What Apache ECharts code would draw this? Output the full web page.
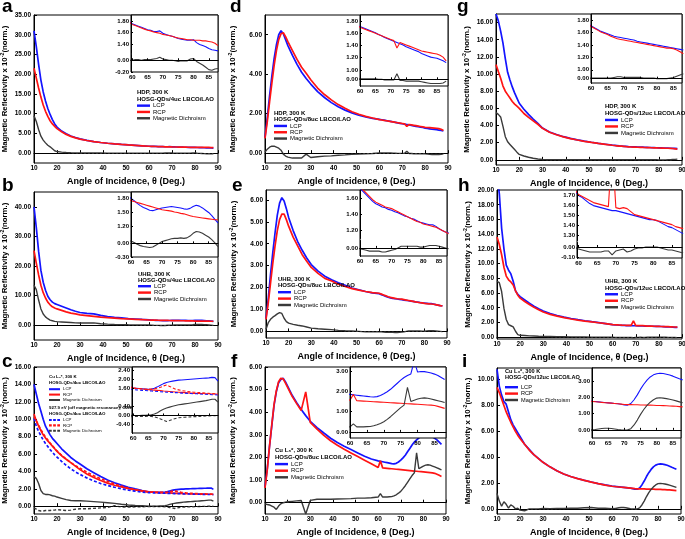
<!DOCTYPE html>
<html><head><meta charset="utf-8">
<script src="https://cdn.jsdelivr.net/npm/echarts@6/dist/echarts.min.js"></script>
<style>html,body{margin:0;padding:0;background:#fff}#c{width:685px;height:539px}</style>
</head><body><div id="c"></div>
<script>
// ---------------- DATA ----------------
const angles = [10,11,12,13,14,15,16,17,18,19,20,22,24,26,28,30,33,36,39,42,45,48,51,54,57,
  60,61,62,63,64,65,66,67,68,69,70,71,72,73,74,75,76,77,78,79,80,81,82,83,84,85,86,87,88];

const aLCP = [31.0,27.0,22.5,18.5,15.5,13.2,11.3,9.8,8.5,7.4,6.6,5.6,4.9,4.35,3.95,3.6,3.22,2.93,2.7,2.5,2.35,2.21,2.09,1.98,1.86,
  1.75,1.73,1.71,1.69,1.67,1.65,1.64,1.62,1.62,1.63,1.59,1.57,1.55,1.54,1.52,1.50,1.49,1.48,1.47,1.47,1.48,1.43,1.40,1.38,1.36,1.33,1.31,1.30,1.29];
const aRCP = [21.5,19.0,16.5,14.2,12.2,10.6,9.3,8.2,7.4,6.8,6.2,5.4,4.75,4.25,3.88,3.55,3.2,2.92,2.69,2.5,2.34,2.2,2.08,1.97,1.86,
  1.74,1.72,1.70,1.68,1.66,1.64,1.63,1.61,1.60,1.59,1.57,1.56,1.55,1.54,1.52,1.51,1.50,1.49,1.48,1.48,1.47,1.47,1.47,1.46,1.46,1.45,1.44,1.42,1.38];
const aMD = [9.5,8.0,6.0,4.3,3.3,2.6,2.0,1.6,1.1,0.6,0.4,0.25,0.15,0.1,0.07,0.05,0.03,0.02,0.02,0.01,0.01,0.0,0.0,0.0,0.0,
  0.0,0.01,0.01,0.0,0.01,0.01,0.01,0.02,0.03,0.05,0.02,0.01,0.0,0.0,-0.01,-0.02,-0.01,-0.01,-0.01,0.02,0.03,-0.02,-0.05,-0.08,-0.12,-0.16,-0.17,-0.15,-0.14];

const bLCP = [40,33,25,18.5,14.5,11.8,9.8,8.6,7.8,7.3,7.0,6.4,5.8,5.2,4.7,4.3,4.0,3.8,3.3,2.9,2.65,2.45,2.25,2.1,1.95,
  1.81,1.76,1.70,1.65,1.61,1.58,1.55,1.54,1.56,1.58,1.60,1.61,1.62,1.63,1.62,1.61,1.60,1.58,1.57,1.59,1.63,1.66,1.64,1.60,1.55,1.50,1.43,1.35,1.27];
const bRCP = [25.2,21,17,13.5,11,9.2,7.8,6.9,6.2,5.8,5.5,5.0,4.5,4.1,3.8,3.5,3.25,3.0,2.75,2.55,2.4,2.25,2.12,2.0,1.88,
  1.76,1.74,1.72,1.70,1.68,1.66,1.64,1.62,1.60,1.58,1.56,1.55,1.54,1.53,1.51,1.50,1.48,1.47,1.45,1.43,1.41,1.40,1.39,1.38,1.37,1.36,1.35,1.34,1.34];
const bMD = [13.5,12,8.5,5.5,3.8,2.8,2.2,1.7,1.5,1.3,1.2,1.1,1.0,0.9,0.8,0.75,0.75,0.8,0.5,0.35,0.25,0.2,0.13,0.1,0.07,
  0.05,0.02,-0.02,-0.05,-0.07,-0.08,-0.09,-0.08,-0.04,0.0,0.04,0.06,0.08,0.10,0.11,0.11,0.12,0.11,0.12,0.16,0.22,0.26,0.25,0.22,0.18,0.14,0.08,0.01,-0.07];

const cLCP = [14.0,12.9,11.8,10.9,10.0,9.2,8.7,8.2,7.8,7.5,7.2,6.6,6.1,5.6,5.2,4.85,4.3,3.85,3.4,3.0,2.7,2.42,2.18,1.98,1.8,
  1.63,1.62,1.61,1.60,1.59,1.58,1.59,1.62,1.68,1.75,1.82,1.87,1.90,1.93,1.95,1.97,1.98,1.99,2.00,2.01,2.02,2.03,2.04,2.05,2.06,2.07,2.09,2.08,1.93];
const cRCP = [10.6,9.8,9.2,8.7,8.2,7.85,7.5,7.2,6.9,6.6,6.3,5.8,5.4,5.0,4.6,4.2,3.7,3.3,2.95,2.65,2.4,2.2,2.02,1.88,1.76,
  1.64,1.62,1.61,1.59,1.58,1.56,1.55,1.54,1.53,1.52,1.50,1.49,1.48,1.47,1.46,1.45,1.44,1.43,1.42,1.41,1.40,1.40,1.39,1.39,1.38,1.38,1.37,1.37,1.36];
const cMD = [3.4,3.2,2.6,1.8,1.45,1.35,1.35,1.3,1.2,1.15,1.05,0.9,0.75,0.65,0.62,0.62,0.58,0.52,0.46,0.4,0.32,0.22,0.14,0.08,0.04,
  0.0,0.0,0.0,0.01,0.01,0.02,0.03,0.06,0.12,0.2,0.27,0.32,0.36,0.40,0.43,0.46,0.48,0.50,0.52,0.54,0.56,0.58,0.60,0.62,0.64,0.67,0.70,0.70,0.58];
const cLCPoff = [10.1,9.2,8.6,8.1,7.6,7.2,6.85,6.5,6.2,5.9,5.65,5.15,4.7,4.3,3.95,3.65,3.25,2.9,2.6,2.38,2.18,2.0,1.85,1.72,1.62,
  1.56,1.55,1.54,1.53,1.52,1.51,1.50,1.49,1.48,1.47,1.46,1.45,1.45,1.44,1.43,1.42,1.41,1.41,1.40,1.39,1.38,1.38,1.37,1.36,1.36,1.35,1.34,1.34,1.33];
const cRCPoff = [10.3,9.8,9.3,8.8,8.35,7.95,7.6,7.25,6.95,6.65,6.35,5.85,5.4,5.0,4.65,4.35,3.9,3.5,3.15,2.85,2.55,2.3,2.08,1.9,1.74,
  1.62,1.61,1.60,1.59,1.58,1.58,1.59,1.60,1.62,1.66,1.72,1.76,1.70,1.64,1.58,1.55,1.52,1.50,1.48,1.46,1.45,1.44,1.43,1.42,1.41,1.40,1.39,1.38,1.37];
const cMDoff = [-0.2,-0.35,-0.5,-0.55,-0.55,-0.5,-0.5,-0.5,-0.45,-0.45,-0.4,-0.45,-0.5,-0.45,-0.35,-0.3,-0.3,-0.25,-0.2,-0.15,0.05,-0.1,-0.1,-0.08,-0.06,
  -0.05,-0.04,-0.04,-0.04,-0.04,-0.03,-0.04,-0.06,-0.1,-0.15,-0.2,-0.26,-0.22,-0.17,-0.13,-0.1,-0.09,-0.08,-0.07,-0.06,-0.05,-0.05,-0.04,-0.03,-0.02,-0.02,-0.01,-0.01,0.0];

const dLCP = [0.8,1.8,2.9,3.9,4.8,5.5,6.0,6.2,6.05,5.75,5.45,4.95,4.5,4.1,3.78,3.5,3.12,2.82,2.56,2.35,2.18,2.04,1.92,1.83,1.76,
  1.71,1.69,1.67,1.65,1.63,1.61,1.58,1.56,1.53,1.51,1.49,1.47,1.45,1.43,1.41,1.38,1.36,1.34,1.32,1.30,1.27,1.25,1.23,1.21,1.20,1.19,1.17,1.15,1.12];
const dRCP = [0.75,1.6,2.6,3.55,4.45,5.2,5.75,6.05,6.1,5.9,5.65,5.2,4.75,4.35,4.05,3.72,3.3,2.97,2.7,2.46,2.27,2.1,1.97,1.86,1.78,
  1.70,1.68,1.66,1.64,1.62,1.60,1.58,1.56,1.54,1.52,1.50,1.48,1.36,1.45,1.43,1.41,1.39,1.37,1.35,1.33,1.31,1.30,1.29,1.28,1.27,1.26,1.24,1.21,1.15];
const dMD = [0.05,0.2,0.3,0.35,0.35,0.3,0.25,0.15,-0.05,-0.15,-0.2,-0.25,-0.25,-0.25,-0.05,-0.22,-0.18,-0.15,-0.14,-0.11,-0.09,-0.06,-0.05,-0.03,-0.02,
  0.01,0.01,0.01,0.01,0.01,0.01,0.0,0.0,-0.01,-0.01,-0.01,-0.01,0.09,-0.02,-0.02,-0.03,-0.03,-0.03,-0.03,-0.03,-0.04,-0.05,-0.06,-0.07,-0.07,-0.07,-0.07,-0.06,-0.03];

const eLCP = [0.6,1.5,2.6,3.6,4.5,5.3,5.85,6.1,5.95,5.6,5.2,4.6,4.1,3.7,3.35,3.05,2.75,2.52,2.36,2.22,2.1,1.98,1.9,1.82,1.76,
  1.72,1.68,1.64,1.60,1.56,1.53,1.51,1.49,1.48,1.46,1.45,1.43,1.42,1.40,1.38,1.37,1.35,1.34,1.32,1.30,1.29,1.28,1.27,1.27,1.25,1.22,1.20,1.18,1.17];
const eRCP = [0.55,1.3,2.2,3.1,3.9,4.6,5.1,5.35,5.35,5.1,4.8,4.3,3.9,3.5,3.2,2.92,2.65,2.42,2.3,2.15,2.05,1.95,1.88,1.82,1.77,
  1.74,1.70,1.66,1.62,1.58,1.55,1.53,1.51,1.49,1.48,1.47,1.45,1.43,1.41,1.39,1.37,1.35,1.33,1.31,1.30,1.28,1.27,1.26,1.25,1.24,1.22,1.20,1.18,1.16];
const eMD = [0.1,0.4,0.55,0.65,0.72,0.8,0.86,0.82,0.6,0.45,0.38,0.32,0.28,0.25,0.2,0.15,0.12,0.1,0.08,0.05,0.03,0.02,0.0,-0.02,-0.02,
  -0.01,-0.02,-0.03,-0.04,-0.04,-0.04,-0.04,-0.05,-0.05,-0.04,-0.03,-0.02,0.0,0.02,0.02,0.02,0.02,0.02,0.02,0.01,0.01,0.02,0.03,0.03,0.03,0.02,0.01,0.0,-0.01];

const fLCP = [0.7,1.5,2.5,3.4,4.3,4.9,5.3,5.45,5.5,5.35,5.15,4.75,4.42,4.12,3.85,3.6,3.32,3.08,2.85,2.66,2.5,2.35,2.2,2.05,1.93,
  1.85,1.83,1.81,1.79,1.77,1.75,1.73,1.72,1.74,1.80,1.88,1.98,2.10,2.25,2.4,2.55,2.68,2.78,2.86,3.5,2.95,2.98,2.97,2.94,2.9,2.85,2.78,2.68,2.58];
const fRCP = [0.65,1.45,2.5,3.45,4.35,4.95,5.35,5.5,5.48,5.3,5.1,4.7,4.38,4.08,4.9,3.55,3.25,2.98,2.74,2.54,2.36,2.2,2.04,1.88,1.72,
  1.56,1.85,1.54,1.53,1.52,1.51,1.50,1.49,1.48,1.47,1.46,1.45,1.44,1.43,1.42,1.41,1.40,1.39,1.38,1.37,1.36,1.35,1.34,1.33,1.32,1.30,1.26,1.21,1.16];
const fMD = [-0.05,-0.08,-0.1,-0.15,-0.2,-0.3,-0.15,-0.05,0.0,0.02,0.04,0.06,0.08,0.1,-0.5,0.1,0.15,0.15,0.15,0.16,0.17,0.18,0.2,0.2,0.22,
  0.25,0.4,0.25,0.25,0.25,0.26,0.27,0.3,0.35,0.42,0.5,0.62,0.75,0.9,1.05,1.2,1.32,2.2,1.5,1.56,1.62,1.66,1.68,1.66,1.62,1.58,1.54,1.5,1.45];

const gLCP = [17,16.2,15,13.6,11.8,10.2,9.3,8.5,7.8,7.2,6.6,5.9,5.3,4.75,4.25,3.7,3.25,2.95,2.7,2.5,2.33,2.18,2.05,1.93,1.82,
  1.71,1.68,1.65,1.62,1.60,1.58,1.56,1.54,1.53,1.52,1.51,1.50,1.49,1.48,1.46,1.45,1.44,1.43,1.42,1.41,1.40,1.39,1.38,1.37,1.36,1.35,1.34,1.33,1.32];
const gRCP = [11.1,10.3,9.5,8.6,8.0,7.6,7.2,6.8,6.5,6.25,6.0,5.4,4.95,4.55,4.15,3.68,3.22,2.93,2.68,2.48,2.31,2.16,2.03,1.91,1.81,
  1.70,1.67,1.64,1.61,1.59,1.57,1.54,1.52,1.50,1.49,1.48,1.47,1.46,1.45,1.44,1.43,1.42,1.41,1.40,1.39,1.38,1.37,1.36,1.35,1.35,1.34,1.32,1.29,1.26];
const gMD = [5.5,5.3,5.0,3.9,2.7,2.1,1.8,1.5,1.2,0.9,0.63,0.45,0.3,0.18,0.1,0.04,0.02,0.01,0.01,0.01,0.01,0.01,0.02,0.02,0.01,
  0.01,0.01,0.01,0.01,0.01,0.01,0.01,0.02,0.03,0.03,0.02,0.02,0.02,0.02,0.02,0.02,0.01,0.01,0.01,0.01,0.0,0.0,0.0,0.0,0.01,0.02,0.04,0.06,0.08];

const hLCP = [22,19.5,14.8,12.0,9.8,9.1,8.6,7.6,6.3,5.8,5.5,5.05,4.6,4.2,3.85,3.55,3.2,2.95,2.73,2.54,2.38,2.23,2.1,1.98,1.85,
  1.70,1.68,1.65,1.62,1.60,1.59,1.58,1.57,1.56,1.55,1.55,1.54,1.53,1.52,1.51,1.50,1.49,1.48,1.47,1.46,1.46,1.45,1.43,1.41,1.39,1.38,1.36,1.34,1.32];
const hRCP = [13.6,12.6,11.2,9.5,8.3,7.8,7.5,7.1,6.3,5.7,5.3,4.85,4.45,4.05,3.72,3.42,3.1,2.85,2.65,2.47,2.32,2.19,2.07,1.96,1.85,
  1.71,1.69,1.67,1.65,1.63,1.62,1.61,1.60,1.59,2.2,1.58,1.57,1.58,1.57,1.54,1.51,1.50,1.49,1.48,1.47,1.46,1.45,1.44,1.43,1.42,1.41,1.39,1.38,1.37];
const hMD = [7.6,7.4,6.2,3.9,2.4,1.7,1.55,1.4,0.8,0.35,0.25,0.22,0.18,0.15,0.12,0.1,0.08,0.06,0.05,0.04,0.03,0.02,0.01,0.0,0.0,
  -0.02,-0.03,-0.04,-0.05,-0.05,-0.05,-0.05,-0.04,-0.04,-0.08,-0.04,-0.03,-0.02,-0.05,-0.04,-0.02,-0.01,-0.01,0.0,0.0,0.0,0.0,-0.01,-0.02,-0.03,-0.03,-0.04,-0.05,-0.06];

const iLCP = [10.8,9.5,8.8,8.3,8.1,7.5,6.9,6.5,6.2,5.9,5.6,5.0,4.6,4.2,3.9,3.6,3.25,2.95,2.7,2.5,2.35,2.2,2.08,1.95,1.85,
  1.76,1.74,1.72,1.70,1.68,1.66,1.64,1.62,1.60,1.57,1.53,1.52,1.62,1.85,2.15,2.5,2.8,3.05,3.25,3.38,3.45,3.48,3.46,3.42,3.37,3.3,3.22,3.14,3.07];
const iRCP = [9.4,9.0,8.5,8.0,7.5,7.1,6.7,6.35,6.0,5.7,5.45,5.0,4.55,4.2,3.88,3.6,3.25,2.95,2.7,2.5,2.34,2.2,2.07,1.95,1.84,
  1.75,1.73,1.71,1.69,1.67,1.66,1.64,1.62,1.60,1.58,1.56,1.55,1.55,1.54,1.54,1.53,1.53,1.52,1.52,1.51,1.50,1.50,1.49,1.48,1.47,1.46,1.45,1.43,1.41];
const iMD = [1.2,0.6,0.2,0.55,0.35,0.05,0.3,0.2,0.0,0.05,-0.1,-0.15,0.0,0.0,0.0,0.02,0.01,0.02,0.03,0.05,0.05,0.08,0.1,0.05,0.04,
  0.01,0.02,0.05,0.08,0.1,0.1,0.08,0.05,0.02,0.0,-0.01,0.0,0.07,0.3,0.6,0.95,1.25,1.5,1.7,1.85,1.95,1.97,1.95,1.92,1.88,1.83,1.78,1.72,1.66];

// tick label values
const xTicksMain = [10,20,30,40,50,60,70,80,90];
const xTicksInset = [60,65,70,75,80,85];
const yTicksA = [0,5,10,15,20,25,30,35];
const yTicksB = [0,10,20,30,40];
const yTicksC = [0,2,4,6,8,10,12,14,16];
const yTicksD = [0,2,4,6];
const yTicksE = [0,1,2,3,4,5,6];
const yTicksF = [0,1,2,3,4,5,6];
const yTicksG = [0,2,4,6,8,10,12,14,16];
const yTicksH = [0,2,4,6,8,10,12,14,16,18,20];
const yTicksI = [0,2,4,6,8,10];
const insTicksA = [-0.2,0,1.4,1.6,1.8];
const insTicksB = [-0.3,0,1.2,1.5,1.8];
const insTicksC = [-0.4,0,0.4,1.6,2.0,2.4];
const insTicksD = [0,1.0,1.2,1.4,1.6,1.8];
const insTicksE = [0,1.2,1.4,1.6];
const insTicksF = [0,1,2,3];
const insTicksG = [0,1.0,1.2,1.4,1.6,1.8];
const insTicksH = [-0.1,0,1.3,1.4,1.5,1.6,1.7];
const insTicksI = [0,1,2,3];

const NM_L = 'LCP', NM_R = 'RCP', NM_M = 'Magnetic Dichroism';
const OFF = ' (927.9 eV)';
const headA = 'HDP, 300 K\nHOSG-QDs/4uc LBCO/LAO';
const headB = 'UHB, 300 K\nHOSG-QDs/4uc LBCO/LAO';
const headC1 = 'Cu L\u2083*, 300 K\nHOSG-QDs/4uc LBCO/LAO';
const headC2 = '927.9 eV (off magnetic resonance), 300K\nHOSG-QDs/4uc LBCO/LAO';
const headD = 'HDP, 300 K\nHOSG-QDs/8uc LBCO/LAO';
const headE = 'UHB, 300 K\nHOSG-QDs/8uc LBCO/LAO';
const headF = 'Cu L\u2083*, 300 K\nHOSG-QDs/8uc LBCO/LAO';
const headG = 'HDP, 300 K\nHOSG-QDs/12uc LBCO/LAO';
const headH = 'UHB, 300 K\nHOSG-QDs/12uc LBCO/LAO';
const headI = 'Cu L\u2083*, 300 K\nHOSG-QDs/12uc LBCO/LAO';

// ---------------- STYLE / LAYOUT ----------------
const FONT = '"Liberation Sans", Arial, sans-serif';
const COL = {L:'#1414ff', R:'#ff1414', M:'#3a3a3a'};
const XNAME = 'Angle of Incidence, \u03b8 (Deg.)';
const YNAME = 'Magnetic Reflectivity x 10{sup|-2}(norm.)';
const ICON_SOLID = 'path://M0,0H16V3H0Z';
const ICON_DASH = 'path://M0,0H4V3H0ZM6,0H10V3H6ZM12,0H16V3H12Z';

const panels = [
 {letter:'a', lt:[2,-3], main:[34,15,184,148], yr:[-2.5,35], yt:yTicksA, yGap:24.5,
  inset:[131,15,87,57], ix:[59.6,88], iy:[-0.2,1.9], brk:[0.1,1.25], it:insTicksA,
  curves:[[NM_L,aLCP,'L',0],[NM_R,aRCP,'R',0],[NM_M,aMD,'M',0]], lh:6.3,
  heads:[[headA,137,89.5]], legs:[[137,102.5,[NM_L,NM_R,NM_M]]]},
 {letter:'b', lt:[2,176], main:[34,192,184,148], yr:[-5,45], yt:yTicksB, yGap:24.5,
  inset:[131,192,87,65], ix:[60,88], iy:[-0.3,1.95], brk:[0.3,1.15], it:insTicksB,
  curves:[[NM_L,bLCP,'L',0],[NM_R,bRCP,'R',0],[NM_M,bMD,'M',0]], lh:6.4,
  heads:[[headB,138,271]], legs:[[138,283,[NM_L,NM_R,NM_M]]]},
 {letter:'c', lt:[2,352], main:[34,367,184,147], yr:[-0.9,16], yt:yTicksC, yGap:24.5,
  inset:[132,367,86,66], ix:[59.6,88], iy:[-0.76,2.54], brk:[0.75,1.25], it:insTicksC,
  curves:[[NM_L,cLCP,'L',0],[NM_R,cRCP,'R',0],[NM_M,cMD,'M',0],
          [NM_L+OFF,cLCPoff,'L',1],[NM_R+OFF,cRCPoff,'R',1],[NM_M+OFF,cMDoff,'M',1]], lh:5.4, fs:4.4, iw:11,
  heads:[[headC1,49,374.5],[headC2,49,405.5]],
  legs:[[49,386.5,[NM_L,NM_R,NM_M]],[49,417.3,[NM_L+OFF,NM_R+OFF,NM_M+OFF]]]},
 {letter:'d', lt:[230,-3], main:[265,15,183,148], yr:[-0.5,7], yt:yTicksD, yGap:27.5,
  inset:[360,15,88,71], ix:[60,88.6], iy:[-0.11,1.9], brk:[0.1,0.97], it:insTicksD,
  curves:[[NM_L,dLCP,'L',0],[NM_R,dRCP,'R',0],[NM_M,dMD,'M',0]], lh:6.3,
  heads:[[headD,274,110]], legs:[[274,122.8,[NM_L,NM_R,NM_M]]]},
 {letter:'e', lt:[232,176], main:[266,190,181,148], yr:[-0.3,6.45], yt:yTicksE, yGap:27.5,
  inset:[360,190,87,66], ix:[60,87.5], iy:[-0.1,1.7], brk:[0.1,1.1], it:insTicksE,
  curves:[[NM_L,eLCP,'L',0],[NM_R,eRCP,'R',0],[NM_M,eMD,'M',0]], lh:6.4,
  heads:[[headE,278,276]], legs:[[278,289,[NM_L,NM_R,NM_M]]]},
 {letter:'f', lt:[231,352], main:[265,367,181,147], yr:[-0.5,6], yt:yTicksF, yGap:27.5,
  inset:[350,367,96,71], ix:[60,88.4], iy:[-0.3,3.2], brk:null, it:insTicksF,
  curves:[[NM_L,fLCP,'L',0],[NM_R,fRCP,'R',0],[NM_M,fMD,'M',0]], lh:6.6,
  heads:[[headF,275,447.5]], legs:[[275,460.8,[NM_L,NM_R,NM_M]]]},
 {letter:'g', lt:[457,-3], main:[496,14,186,151], yr:[-0.6,17], yt:yTicksG, yGap:24.5,
  inset:[591,14,91,69], ix:[60,87.6], iy:[-0.07,1.9], brk:[0.1,0.98], it:insTicksG,
  curves:[[NM_L,gLCP,'L',0],[NM_R,gRCP,'R',0],[NM_M,gMD,'M',0]], lh:6.5,
  heads:[[headG,605,103.5]], legs:[[605,116.7,[NM_L,NM_R,NM_M]]]},
 {letter:'h', lt:[458,176], main:[497,190,185,149], yr:[-0.25,20], yt:yTicksH, yGap:24.5,
  inset:[577,190,105,68], ix:[59.6,87.7], iy:[-0.11,1.756], brk:[0.05,1.25], it:insTicksH,
  curves:[[NM_L,hLCP,'L',0],[NM_R,hRCP,'R',0],[NM_M,hMD,'M',0]], lh:6.5,
  heads:[[headH,605,278.5]], legs:[[605,291,[NM_L,NM_R,NM_M]]]},
 {letter:'i', lt:[462,352], main:[497,368,184,146], yr:[-0.4,10.9], yt:yTicksI, yGap:24.5,
  inset:[592,368,89,70], ix:[60,87.5], iy:[-0.5,3.8], brk:null, it:insTicksI,
  curves:[[NM_L,iLCP,'L',0],[NM_R,iRCP,'R',0],[NM_M,iMD,'M',0]], lh:6.4, fs:5.6,
  heads:[[headI,505,368]], legs:[[505,384,[NM_L,NM_R,NM_M]]]}
];

// ---------------- BUILD ----------------
const grids=[], xAxes=[], yAxes=[], series=[], legends=[], titles=[];
const txt = (size, bold) => ({fontSize:size, fontWeight: bold?'bold':'normal', fontFamily:FONT, color:'#000'});
const axLine = {show:true, lineStyle:{color:'#000', width:1}};
const fmt2 = v => Number(v).toFixed(2);

panels.forEach(p => {
  const gm = grids.length;
  grids.push({left:p.main[0], top:p.main[1], width:p.main[2], height:p.main[3], show:true,
    borderColor:'#000', borderWidth:1, backgroundColor:'rgba(0,0,0,0)', containLabel:false, outerBoundsMode:'none'});
  xAxes.push({gridIndex:gm, type:'value', min:10, max:90, axisLine:axLine,
    axisTick:{inside:true, length:3, customValues:xTicksMain, lineStyle:{color:'#000'}},
    axisLabel:Object.assign({customValues:xTicksMain, margin:2, showMinLabel:true, showMaxLabel:true}, txt(6.5,true)),
    splitLine:{show:false},
    name:XNAME, nameLocation:'middle', nameGap:14, nameTextStyle:txt(9,true)});
  yAxes.push({gridIndex:gm, type:'value', min:p.yr[0], max:p.yr[1], axisLine:axLine,
    axisTick:{inside:true, length:3, customValues:p.yt, lineStyle:{color:'#000'}},
    axisLabel:Object.assign({customValues:p.yt, margin:3, formatter:fmt2, showMinLabel:true, showMaxLabel:true}, txt(6.5,true)),
    splitLine:{show:false},
    name:YNAME, nameLocation:'middle', nameRotate:90, nameGap:p.yGap,
    nameTextStyle:Object.assign(txt(7.8,true), {rich:{sup:Object.assign(txt(5.3,true), {verticalAlign:'top', padding:[0,0,4,0]})}})});
  const gi = grids.length;
  grids.push({left:p.inset[0], top:p.inset[1], width:p.inset[2], height:p.inset[3], show:true, z:3,
    borderColor:'#000', borderWidth:1, backgroundColor:'#fff', containLabel:false, outerBoundsMode:'none'});
  xAxes.push({gridIndex:gi, type:'value', min:p.ix[0], max:p.ix[1], z:5, axisLine:axLine,
    axisTick:{inside:true, length:2, customValues:xTicksInset, lineStyle:{color:'#000'}},
    axisLabel:Object.assign({customValues:xTicksInset, margin:2}, txt(6,true)),
    splitLine:{show:false}});
  const iy = {gridIndex:gi, type:'value', min:p.iy[0], max:p.iy[1], z:5, axisLine:axLine,
    axisTick:{inside:true, length:2, customValues:p.it, lineStyle:{color:'#000'}},
    axisLabel:Object.assign({customValues:p.it, margin:2, formatter:fmt2}, txt(6,true)),
    splitLine:{show:false}};
  if (p.brk) {
    iy.breaks = [{start:p.brk[0], end:p.brk[1], gap:'2%'}];
    iy.breakArea = {show:false};
  }
  yAxes.push(iy);
  p.curves.forEach(cv => {
    const [name, arr, ck, dashed] = cv;
    const data = angles.map((x, k) => [x, arr[k]]);
    [[gm, ck==='M'?1.4:1.7, 2], [gi, 1.1, 4]].forEach(([g, w, z]) => {
      const s = {type:'line', name, xAxisIndex:g, yAxisIndex:g, data, symbol:'none', showSymbol:false,
        z, clip:true, silent:true,
        lineStyle:{color:COL[ck], width:w, type: dashed ? [3,2] : 'solid'}, itemStyle:{color:COL[ck]}};
      if (ck==='M' && !dashed) {
        s.markLine = {silent:true, symbol:'none', label:{show:false}, animation:false,
          lineStyle:{color:'#000', width:0.8, type:[2,2]}, data:[{yAxis:0}]};
      }
      series.push(s);
    });
  });
  const fs = p.fs || 6;
  p.heads.forEach(h => titles.push({text:h[0], left:h[1], top:h[2], padding:0, itemGap:0,
    textStyle:Object.assign(txt(fs,true), {lineHeight:p.lh})}));
  p.legs.forEach(l => legends.push({orient:'vertical', left:l[0], top:l[1], padding:0, itemGap:0,
    itemWidth:p.iw || 13, itemHeight:2.6, selectedMode:false,
    data:l[2].map(n => ({name:n, icon: n.indexOf(OFF) >= 0 ? ICON_DASH : ICON_SOLID})),
    formatter: n => n.replace(OFF, ''),
    textStyle:Object.assign(txt(fs,false), {lineHeight:p.lh, padding:[0,0,0,-2]})}));
  titles.push({text:p.letter, left:p.lt[0], top:p.lt[1], padding:0, textStyle:txt(19,true)});
});

const chart = echarts.init(document.getElementById('c'), null, {renderer:'canvas'});
chart.setOption({animation:false, backgroundColor:'#fff', grid:grids, xAxis:xAxes, yAxis:yAxes,
  series, legend:legends, title:titles});
</script></body></html>
